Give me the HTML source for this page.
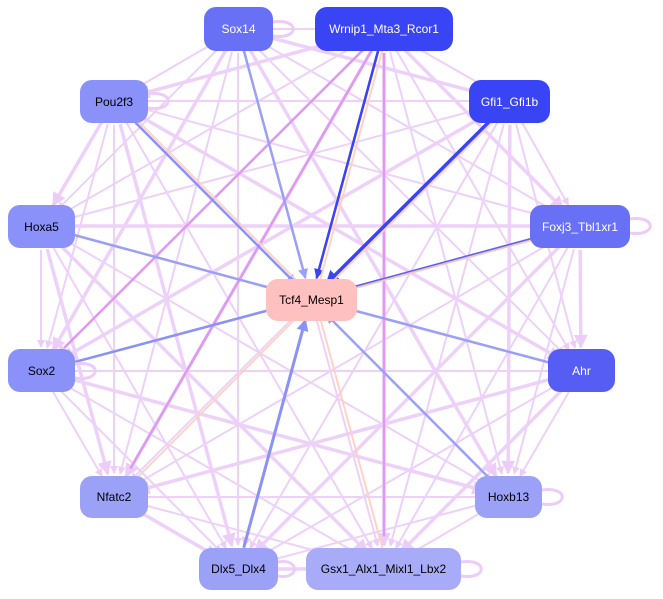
<!DOCTYPE html>
<html><head><meta charset="utf-8"><style>
html,body{margin:0;padding:0;background:#fff;width:663px;height:599px;overflow:hidden}
svg{position:absolute;left:0;top:0}
.n{position:absolute;border-radius:12px;display:flex;align-items:center;justify-content:center;font-family:"Liberation Sans",sans-serif;font-size:12px}
</style></head><body>
<svg id="s" width="663" height="599">
<defs>
<marker id="ml" markerWidth="4" markerHeight="4" refX="3.5" refY="2" orient="auto" markerUnits="strokeWidth"><path d="M0,0L4,2L0,4z" fill="#eccdf8"/></marker>
<marker id="mb" markerWidth="4" markerHeight="4" refX="3.5" refY="2" orient="auto" markerUnits="strokeWidth"><path d="M0,0L4,2L0,4z" fill="context-stroke"/></marker>
</defs>
<g id="g"></g>
<g fill="none" stroke="#eccdf8" stroke-width="3">
<path d="M273,22 C300,18 300,40 273,36"/>
<path d="M148,94 C175,90 175,112 148,108"/>
<path d="M630,219 C657,215 657,237 630,233"/>
<path d="M75,364 C102,360 102,382 75,378"/>
<path d="M542,490 C569,486 569,508 542,504"/>
<path d="M461,562 C488,558 488,580 461,576"/>
<path d="M278,562 C300,558 300,580 278,576"/>
</g>
</svg>
<div class="n" style="left:204px;top:7px;width:69px;height:44px;background:#6870f6;color:#fff">Sox14</div>
<div class="n" style="left:315px;top:7px;width:138px;height:44px;background:#3944f5;color:#fff">Wrnip1_Mta3_Rcor1</div>
<div class="n" style="left:80px;top:80px;width:68px;height:43px;background:#8a91f8;color:#000">Pou2f3</div>
<div class="n" style="left:469px;top:80px;width:81px;height:43px;background:#3944f5;color:#fff">Gfi1_Gfi1b</div>
<div class="n" style="left:8px;top:205px;width:67px;height:43px;background:#8a91f8;color:#000">Hoxa5</div>
<div class="n" style="left:530px;top:205px;width:100px;height:43px;background:#6870f6;color:#fff">Foxj3_Tbl1xr1</div>
<div class="n" style="left:266px;top:279px;width:91px;height:42px;background:#ffc0c0;color:#000">Tcf4_Mesp1</div>
<div class="n" style="left:8px;top:349px;width:67px;height:43px;background:#8a91f8;color:#000">Sox2</div>
<div class="n" style="left:548px;top:349px;width:67px;height:43px;background:#555df5;color:#fff">Ahr</div>
<div class="n" style="left:80px;top:476px;width:68px;height:42px;background:#9ca1f8;color:#000">Nfatc2</div>
<div class="n" style="left:475px;top:476px;width:67px;height:42px;background:#9ca1f8;color:#000">Hoxb13</div>
<div class="n" style="left:199px;top:548px;width:79px;height:42px;background:#9ca1f8;color:#000">Dlx5_Dlx4</div>
<div class="n" style="left:306px;top:548px;width:155px;height:42px;background:#a8acf8;color:#000">Gsx1_Alx1_Mixl1_Lbx2</div>
<script>
var N={so14:[238,29],wr:[384,29],po:[114,101],gf:[510,101],hx:[41,226],fo:[580,226],tc:[311,299],so2:[41,371],ah:[581,371],nf:[114,497],hb:[508,497],dl:[238,569],gs:[384,569]};
var outer=["so14","wr","po","gf","hx","fo","so2","ah","nf","hb","dl","gs"];
var g=document.getElementById("g"),h="";
function ln(a,b,c,w,m,sh){var A=N[a],B=N[b];var dx=B[0]-A[0],dy=B[1]-A[1],L=Math.hypot(dx,dy);var s=sh||24;
var x1=A[0]+dx/L*s,y1=A[1]+dy/L*s,x2=B[0]-dx/L*s,y2=B[1]-dy/L*s;
h+='<line x1="'+x1+'" y1="'+y1+'" x2="'+x2+'" y2="'+y2+'" stroke="'+c+'" stroke-width="'+w+'" marker-end="url(#'+m+')"/>';}
for(var i=0;i<outer.length;i++)for(var j=i+1;j<outer.length;j++){if(outer[i]=="ah"&&(outer[j]=="gf"))continue;
ln(outer[i],outer[j],"#eed1f9",(i+j)%3==0?3.5:2,"ml");}
ln("wr","so2","#dd9af0",2.5,"ml");ln("wr","nf","#dd9af0",2.5,"ml");ln("wr","dl","#dd9af0",2.5,"ml");ln("wr","gs","#dd9af0",2.5,"ml");
var bl=[["so14","#9aa0f8",2.5],["wr","#3944f5",2.5],["po","#8a91f8",2.5],["gf","#3944f5",3.5],["hx","#9aa0f8",2.5],["fo","#5a62f5",3],["so2","#8a91f8",2.5],["ah","#9aa0f8",2.5],["hb","#9aa0f8",2.5],["dl","#8a91f8",3]];
bl.forEach(function(e){ln(e[0],"tc",e[1],e[2],"mb",22);});
["po","wr","gf","fo","nf","gs"].forEach(function(k){var A=N.tc,B=N[k];h+='<line x1="'+(A[0]+4)+'" y1="'+(A[1])+'" x2="'+(B[0]+4)+'" y2="'+B[1]+'" stroke="#ffcfc0" stroke-width="2" opacity="0.9"/>';});
g.innerHTML=h;
</script>
</body></html>
